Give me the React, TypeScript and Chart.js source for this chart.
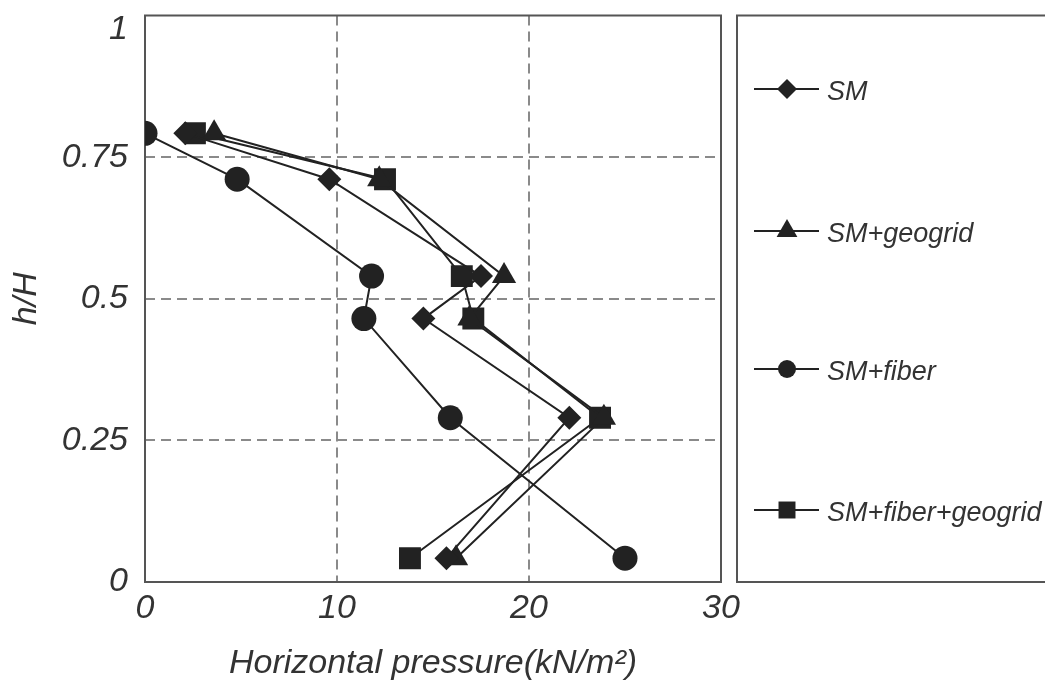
import React, { useEffect, useRef } from "react";
import { Chart, registerables } from "chart.js";

Chart.register(...registerables);

const seriesNames = ["SM", "SM+geogrid", "SM+fiber", "SM+fiber+geogrid"];
const pointStyles = ["rectRot", "triangle", "circle", "rect"];
const pointRadii = [12, 14, 12.5, 15.5];
const legendRadii = [10, 12, 9, 12];

const hH = [0.792, 0.711, 0.54, 0.465, 0.29, 0.042];
const smX = [2.1, 9.6, 17.5, 14.5, 22.1, 15.7];
const smGeogridX = [3.6, 12.2, 18.7, 16.9, 23.9, 16.2];
const smFiberX = [0, 4.8, 11.8, 11.4, 15.9, 25.0];
const smFiberGeogridX = [2.6, 12.5, 16.5, 17.1, 23.7, 13.8];

const xTickLabels = ["0", "10", "20", "30"];
const yTickLabels = ["0", "0.25", "0.5", "0.75", "1"];

const FONT = "'Liberation Sans', Arial, sans-serif";
const TEXT = "#333333";
const INK = "#222222";
const FRAME = "#555555";

function drawMarker(ctx: CanvasRenderingContext2D, style: string, x: number, y: number, r: number) {
  ctx.beginPath();
  if (style === "circle") {
    ctx.arc(x, y, r, 0, Math.PI * 2);
  } else if (style === "rect") {
    const s = r * Math.SQRT1_2;
    ctx.rect(x - s, y - s, 2 * s, 2 * s);
  } else if (style === "rectRot") {
    ctx.moveTo(x, y - r);
    ctx.lineTo(x + r, y);
    ctx.lineTo(x, y + r);
    ctx.lineTo(x - r, y);
    ctx.closePath();
  } else if (style === "triangle") {
    for (let i = 0; i < 3; i++) {
      const a = (i * 2 * Math.PI) / 3;
      const px = x + Math.sin(a) * r;
      const py = y - Math.cos(a) * r;
      if (i === 0) ctx.moveTo(px, py);
      else ctx.lineTo(px, py);
    }
    ctx.closePath();
  }
  ctx.fill();
}

const framePlugin = {
  id: "frameAndLegend",
  beforeDatasetsDraw(chart: any) {
    const { ctx, chartArea } = chart;
    ctx.save();
    ctx.strokeStyle = FRAME;
    ctx.lineWidth = 2;
    ctx.setLineDash([]);
    ctx.strokeRect(chartArea.left, chartArea.top, chartArea.right - chartArea.left, chartArea.bottom - chartArea.top);
    ctx.restore();
  },
  afterDraw(chart: any) {
    const { ctx, chartArea } = chart;
    ctx.save();
    ctx.strokeStyle = FRAME;
    ctx.lineWidth = 2;
    const boxLeft = 737;
    ctx.strokeRect(boxLeft, chartArea.top, 400, chartArea.bottom - chartArea.top);
    const rows = [89, 231, 369, 510];
    chart.data.datasets.forEach((ds: any, i: number) => {
      const y = rows[i];
      ctx.strokeStyle = INK;
      ctx.lineWidth = 2;
      ctx.beginPath();
      ctx.moveTo(754, y);
      ctx.lineTo(819, y);
      ctx.stroke();
      ctx.fillStyle = INK;
      drawMarker(ctx, pointStyles[i], 787, y, legendRadii[i]);
      ctx.fillStyle = TEXT;
      ctx.font = `italic 27px ${FONT}`;
      ctx.textAlign = "left";
      ctx.textBaseline = "middle";
      ctx.fillText(ds.label, 827, y + 3);
    });
    ctx.restore();
  },
};

export default function App() {
  const ref = useRef<HTMLCanvasElement>(null);
  useEffect(() => {
    const xs = [smX, smGeogridX, smFiberX, smFiberGeogridX];
    const chart = new Chart(ref.current as HTMLCanvasElement, {
      type: "line",
      data: {
        datasets: seriesNames.map((name, i) => ({
          label: name,
          data: xs[i].map((x, j) => ({ x, y: hH[j] })),
          borderColor: INK,
          backgroundColor: INK,
          borderWidth: 2,
          pointStyle: pointStyles[i] as any,
          pointRadius: pointRadii[i],
          pointBackgroundColor: INK,
          pointBorderColor: INK,
          pointBorderWidth: 0,
          tension: 0,
          fill: false,
        })),
      },
      options: {
        responsive: false,
        animation: false,
        events: [],
        layout: { padding: { left: 0, right: 324, top: 14, bottom: 0 } },
        plugins: { legend: { display: false }, tooltip: { enabled: false } },
        scales: {
          x: {
            type: "linear",
            min: 0,
            max: 30,
            afterFit: (s: any) => {
              s.height = 104;
            },
            ticks: {
              stepSize: 10,
              padding: 6,
              color: TEXT,
              font: { family: FONT, size: 34, style: "italic", lineHeight: 1.2 },
              maxRotation: 0,
              callback: (v: any) => {
                const i = Math.round(Number(v) / 10);
                return xTickLabels[i] ?? String(v);
              },
            },
            grid: {
              drawTicks: false,
              lineWidth: 2,
              color: (c: any) => (c.tick && (c.tick.value === 0 || c.tick.value === 30) ? "rgba(0,0,0,0)" : "#8a8a8a"),
            },
            border: { display: false, dash: [10, 6] },
            title: {
              display: true,
              text: "Horizontal pressure(kN/m²)",
              color: TEXT,
              font: { family: FONT, size: 34, style: "italic", lineHeight: 1.2 },
              padding: { top: 0, bottom: 2 },
            },
          },
          y: {
            type: "linear",
            min: 0,
            max: 1,
            afterFit: (s: any) => {
              s.width = 145;
              s.paddingTop = 0;
              s.paddingBottom = 0;
            },
            ticks: {
              stepSize: 0.25,
              padding: 17,
              color: TEXT,
              font: { family: FONT, size: 34, style: "italic", lineHeight: 0.8 },
              callback: (v: any) => {
                const i = Math.round(Number(v) / 0.25);
                const lab = yTickLabels[i] ?? String(v);
                return i === 4 ? ["", lab] : lab;
              },
            },
            grid: {
              drawTicks: false,
              lineWidth: 2,
              color: (c: any) => (c.tick && (c.tick.value === 0 || c.tick.value === 1) ? "rgba(0,0,0,0)" : "#8a8a8a"),
            },
            border: { display: false, dash: [10, 6] },
            title: {
              display: true,
              text: "h/H",
              color: TEXT,
              font: { family: FONT, size: 34, style: "italic", lineHeight: 1.2 },
              padding: { top: 6, bottom: 0 },
            },
          },
        },
      },
      plugins: [framePlugin],
    });
    return () => chart.destroy();
  }, []);
  return (
    <div style={{ position: "absolute", left: 0, top: 0, width: 1045, height: 686, background: "#fff" }}>
      <canvas ref={ref} width={1045} height={686} style={{ width: 1045, height: 686, display: "block" }} />
    </div>
  );
}
